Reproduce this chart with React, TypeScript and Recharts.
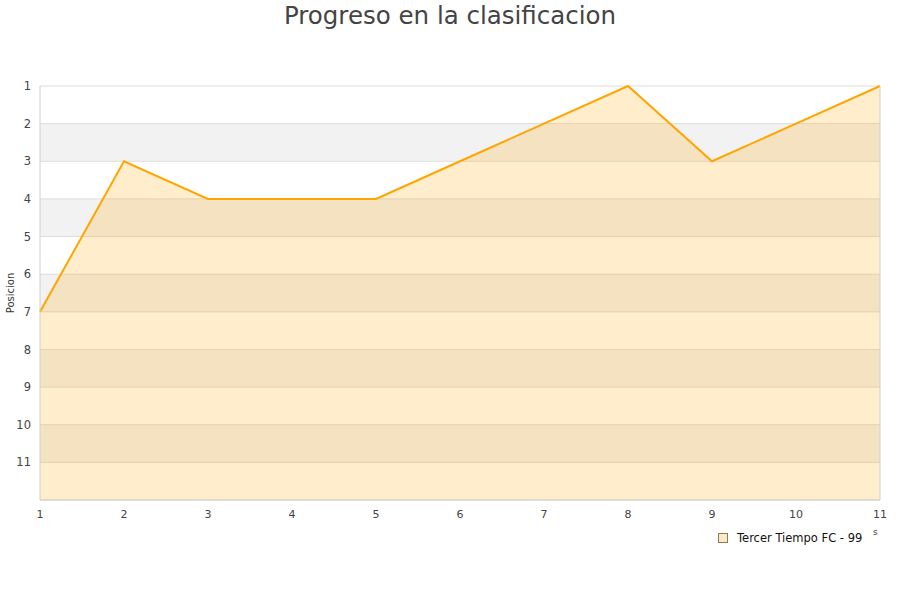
import {
  ComposedChart,
  Area,
  XAxis,
  YAxis,
  CartesianGrid,
  ReferenceLine,
} from 'recharts'

const jornadas = [1, 2, 3, 4, 5, 6, 7, 8, 9, 10, 11]
const posiciones = [7, 3, 4, 4, 4, 3, 2, 1, 3, 2, 1]
const yTicks = [1, 2, 3, 4, 5, 6, 7, 8, 9, 10, 11]
const teamName = 'Tercer Tiempo FC - 99'

const data = jornadas.map((j, i) => ({ jornada: j, pos: posiciones[i] }))

const FONT = '"DejaVu Sans", Verdana, sans-serif'

export default function App() {
  return (
    <div style={{ position: 'absolute', left: 0, top: 0, width: 900, height: 600, background: '#fff' }}>
      <div
        style={{
          position: 'absolute',
          top: 1,
          width: 900,
          textAlign: 'center',
          fontFamily: FONT,
          fontSize: 24.5,
          color: '#444',
          lineHeight: '30px',
        }}
      >
        Progreso en la clasificacion
      </div>
      <ComposedChart
        width={900}
        height={600}
        data={data}
        margin={{ top: 86, right: 20, bottom: 70, left: 10 }}
      >
        <CartesianGrid
          vertical={false}
          stroke="#dcdcdc"
          horizontalFill={['#ffffff', '#f2f2f2']}
          fillOpacity={1}
        />
        <XAxis
          dataKey="jornada"
          type="number"
          domain={[1, 11]}
          ticks={jornadas}
          height={30}
          tickSize={0}
          tickMargin={10}
          stroke="#d0d0d0"
          tick={{ fill: '#444', fontSize: 11, fontFamily: FONT }}
          label={{
            content: ({ viewBox }: any) => (
              <text x={viewBox.x + viewBox.width - 7} y={viewBox.y + 35} fontSize={9} fill="#444" fontFamily={FONT}>
                s
              </text>
            ),
          }}
        />
        <YAxis
          type="number"
          reversed
          domain={[1, 12]}
          ticks={yTicks}
          interval={0}
          width={30}
          tickSize={0}
          tickMargin={9}
          stroke="#d0d0d0"
          tick={{ fill: '#444', fontSize: 11.5, fontFamily: FONT }}
          label={{
            content: () => (
              <text
                x={14}
                y={293}
                transform="rotate(-90 14 293)"
                textAnchor="middle"
                fontSize={10}
                fill="#333"
                fontFamily={FONT}
              >
                Posicion
              </text>
            ),
          }}
        />
        <ReferenceLine x={11} stroke="#d0d0d0" />
        <Area
          type="linear"
          dataKey="pos"
          baseValue="dataMax"
          stroke="#ffa500"
          strokeWidth={2}
          fill="#ffa500"
          fillOpacity={0.2}
          dot={false}
          activeDot={false}
          isAnimationActive={false}
        />
      </ComposedChart>
      <div
        style={{
          position: 'absolute',
          left: 718,
          top: 531,
          display: 'flex',
          alignItems: 'center',
          fontFamily: FONT,
          fontSize: 11.5,
          color: '#111',
          whiteSpace: 'nowrap',
        }}
      >
        <span
          style={{
            display: 'inline-block',
            width: 8,
            height: 8,
            border: '1px solid #8a7a5a',
            background: '#fde9c3',
            marginRight: 9,
          }}
        />
        {teamName}
      </div>
    </div>
  )
}
